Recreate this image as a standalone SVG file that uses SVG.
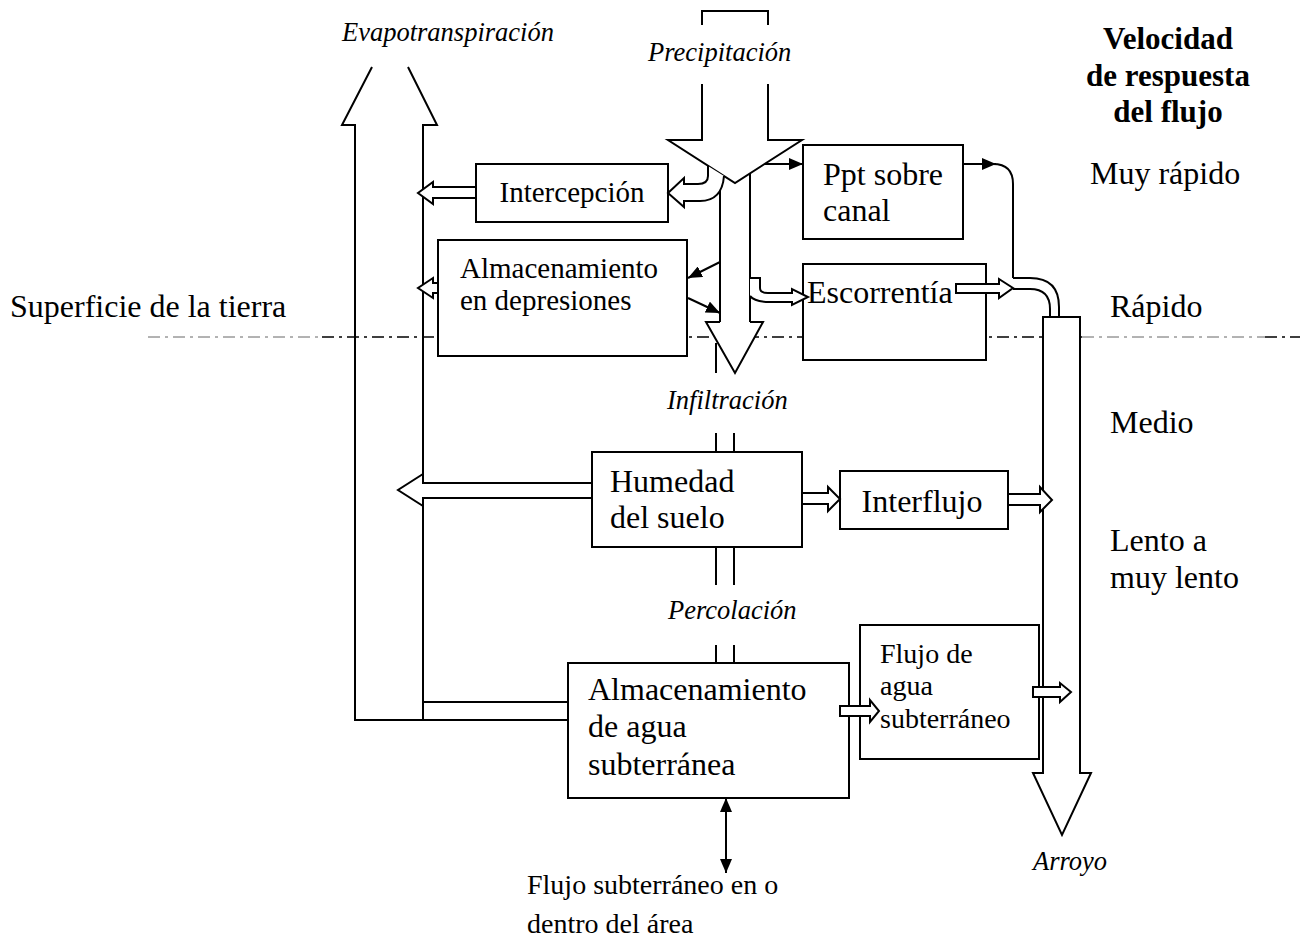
<svg xmlns="http://www.w3.org/2000/svg" width="1303" height="952" viewBox="0 0 1303 952">
<style>
text{font-family:"Liberation Serif","Times New Roman",serif;font-size:32px;fill:#000}
.it{font-style:italic;font-size:26.5px}
.m{font-size:29px}
.sm{font-size:28px}
.b{font-weight:bold;text-anchor:middle;font-size:31px}
.box{fill:#fff;stroke:#000;stroke-width:2}
.ln{fill:none;stroke:#000;stroke-width:2}
.ha{fill:#fff;stroke:#000;stroke-width:2;stroke-linejoin:miter}
.ar{fill:none;stroke:#000;stroke-width:2}
.dash{fill:none;stroke:#000;stroke-width:1.5;stroke-dasharray:12 5 3 5}
.dashl{fill:none;stroke:#666;stroke-width:1;stroke-dasharray:12 5 3 5}
</style>
<defs>
<marker id="ah" viewBox="0 0 14 12" markerWidth="14" markerHeight="12" refX="14" refY="6" markerUnits="userSpaceOnUse" orient="auto-start-reverse">
<path d="M0,0 L14,6 L0,12 z" fill="#000"/>
</marker>
</defs>
<rect width="1303" height="952" fill="#fff"/>
<g id="surface-line">
<line class="dashl" x1="148" y1="337" x2="322" y2="337"/>
<line class="dash" x1="322" y1="337" x2="1082" y2="337"/>
<line class="dashl" x1="1082" y1="337" x2="1265" y2="337"/>
<line class="dash" x1="1265" y1="337" x2="1300" y2="337"/>
</g>
<g id="n-intercepcion">
<rect class="box" x="476" y="164" width="192" height="58"/>
<text class="m" x="572" y="202" text-anchor="middle">Intercepción</text>
</g>
<g id="n-depresiones">
<rect class="box" x="438" y="240" width="249" height="116"/>
<text class="m" x="460" y="278">Almacenamiento</text>
<text class="m" x="460" y="310">en depresiones</text>
</g>
<g id="n-ppt">
<rect class="box" x="803" y="145" width="160" height="94"/>
<text x="823" y="185">Ppt sobre</text>
<text x="823" y="221">canal</text>
</g>
<g id="n-escorrentia">
<rect class="box" x="803" y="264" width="183" height="96"/>
<text x="807" y="303">Escorrentía</text>
</g>
<g id="n-humedad">
<rect class="box" x="592" y="452" width="210" height="95"/>
<text x="610" y="492">Humedad</text>
<text x="610" y="528">del suelo</text>
</g>
<g id="n-interflujo">
<rect class="box" x="840" y="471" width="168" height="58"/>
<text x="922" y="512" text-anchor="middle">Interflujo</text>
</g>
<g id="n-almacenamiento">
<rect class="box" x="568" y="663" width="281" height="135"/>
<text x="588" y="700">Almacenamiento</text>
<text x="588" y="737">de agua</text>
<text x="588" y="775">subterránea</text>
</g>
<g id="n-flujo">
<rect class="box" x="860" y="625" width="179" height="134"/>
<text class="sm" x="880" y="663">Flujo de</text>
<text class="sm" x="880" y="695">agua</text>
<text class="sm" x="880" y="728">subterráneo</text>
</g>
<g id="connectors">
<path class="ln" d="M372,67 L342,125 H355 V720 H568"/>
<path class="ln" d="M408,67 L437,125 H423 V720"/>
<path class="ln" d="M423,702 H568"/>
<path class="ln" d="M702,25 V11 H768 V25"/>
<path class="ha" d="M702,84 V140 H668 L735,183 L802,140 H768 V84"/>
<path class="ln" d="M720,173 V322"/>
<path class="ln" d="M750,173 V322"/>
<path class="ha" d="M720,322 H706 L735,373 L763,322 H750"/>
<path class="ln" d="M716,343 V373"/>
<path class="ha" d="M708,166 V176 Q708,184 698,184 H684 V178 L668,193 L684,207 V201 H700 Q722,201 724,176"/>
<path class="ha" d="M750,278 H760 V288 Q760,293 768,293 H792 V289 L808,297 L792,305 V302 H770 Q755,302 750,296"/>
<path class="ar" d="M765,164 H803" marker-end="url(#ah)"/>
<path class="ar" d="M963,164 H996" marker-end="url(#ah)"/>
<path class="ln" d="M993,164 Q1013,164 1013,184 V278"/>
<path class="ln" d="M1013,278 H1030 Q1059,278 1059,307 V317"/>
<path class="ln" d="M1013,289 H1030 Q1050,289 1050,309 V317"/>
<path class="ar" d="M720,262 L688,278" marker-end="url(#ah)"/>
<path class="ar" d="M688,298 L720,313" marker-end="url(#ah)"/>
<path class="ha" d="M1043,317 H1080 V773 H1091 L1062,835 L1033,773 H1043 Z"/>
<path class="ln" d="M716,433 V452 M734,433 V452 M716,547 V585 M734,547 V585 M716,645 V663 M734,645 V663"/>
<polygon class="ha" points="476,187 433,187 433,182 418,193 433,204 433,198 476,198"/>
<polygon class="ha" points="438,283 433,283 433,278 418,288 433,298 433,293 438,293"/>
<polygon class="ha" points="592,483 423,483 423,474 398,490 423,506 423,498 592,498"/>
<polygon class="ha" points="802,493 828,493 828,487 840,499 828,511 828,504 802,504"/>
<polygon class="ha" points="1008,494 1040,494 1040,487 1052,500 1040,512 1040,505 1008,505"/>
<polygon class="ha" points="956,284 999,284 999,279 1013,288 999,298 999,293 956,293"/>
<polygon class="ha" points="840,706 870,706 870,700 879,711 870,722 870,716 840,716"/>
<polygon class="ha" points="1033,687 1060,687 1060,683 1071,692 1060,702 1060,697 1033,697"/>
<path class="ar" d="M726,798 V873" marker-start="url(#ah)" marker-end="url(#ah)"/>
</g>
<g id="labels">
<text class="it" x="342" y="41">Evapotranspiración</text>
<text class="it" x="648" y="61">Precipitación</text>
<text class="it" x="667" y="409">Infiltración</text>
<text class="it" x="668" y="619">Percolación</text>
<text class="it" x="1033" y="870">Arroyo</text>
<text x="10" y="317">Superficie de la tierra</text>
<text class="b" x="1168" y="49">Velocidad</text>
<text class="b" x="1168" y="86">de respuesta</text>
<text class="b" x="1168" y="122">del flujo</text>
<text x="1090" y="184">Muy rápido</text>
<text x="1110" y="317">Rápido</text>
<text x="1110" y="433">Medio</text>
<text x="1110" y="551">Lento a</text>
<text x="1110" y="588">muy lento</text>
<text class="sm" x="527" y="894">Flujo subterráneo en o</text>
<text class="sm" x="527" y="933">dentro del área</text>
</g>
</svg>
